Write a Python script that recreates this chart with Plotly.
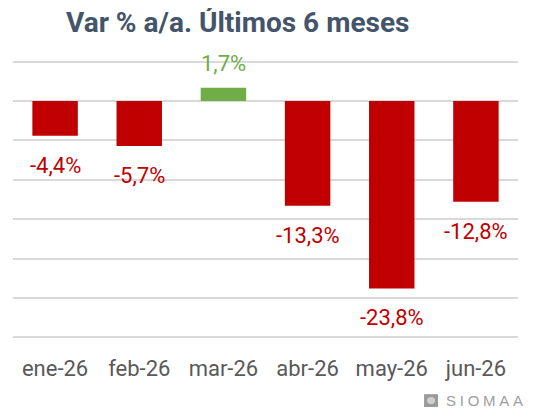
import plotly.graph_objects as go

categories = ["ene-26", "feb-26", "mar-26", "abr-26", "may-26", "jun-26"]
values = [-4.4, -5.7, 1.7, -13.3, -23.8, -12.8]
labels = ["-4,4%", "-5,7%", "1,7%", "-13,3%", "-23,8%", "-12,8%"]

RED = "#C00000"
GREEN = "#70AD47"
colors = [GREEN if v >= 0 else RED for v in values]

fig = go.Figure()
fig.add_trace(go.Bar(x=categories, y=values, marker_color=colors, marker_line_width=0,
                     hoverinfo="skip"))

for c, v, t, col in zip(categories, values, labels, colors):
    fig.add_annotation(x=c, y=v, text=t, showarrow=False,
                       yanchor="bottom" if v >= 0 else "top",
                       yshift=10 if v >= 0 else -15,
                       font=dict(family="Roboto", size=22, color=col))

fig.add_annotation(xref="paper", yref="paper", x=0.103, y=1.12, xanchor="left", yanchor="middle",
                   text="<b>Var % a/a. Últimos 6 meses</b>", showarrow=False, borderpad=0,
                   font=dict(family="Roboto", size=28, color="#44546A"))

# logo
fig.add_shape(type="rect", xref="paper", yref="paper", x0=0.814, x1=0.8416, y0=-0.228, y1=-0.183,
              fillcolor="#9A9A9A", line=dict(width=0), layer="above")
fig.add_shape(type="circle", xref="paper", yref="paper", x0=0.820, x1=0.8356, y0=-0.218, y1=-0.193,
              fillcolor="#D0D0D0", line=dict(width=0), layer="above")
fig.add_annotation(xref="paper", yref="paper", x=0.8525, y=-0.205, xanchor="left", yanchor="middle",
                   text="S\u2005I\u2005O\u2005M\u2005A\u2005A", showarrow=False,
                   font=dict(family="Liberation Sans", size=15, color="#9E9E9E"))

fig.update_layout(
    width=535, height=406,
    margin=dict(l=5, r=25, t=49, b=72),
    paper_bgcolor="white", plot_bgcolor="white",
    showlegend=False,
    bargap=0.46,
    xaxis=dict(tickfont=dict(family="Roboto", size=22, color="#595959"), ticks="",
               ticklabelstandoff=11,
               showgrid=False, showline=False, zeroline=False),
    yaxis=dict(range=[-30.6, 5.6], dtick=5, tick0=0, showticklabels=False,
               showgrid=True, gridcolor="#D9D9D9", gridwidth=2,
               zeroline=True, zerolinecolor="#D9D9D9", zerolinewidth=2),
)

fig.write_html("out.html")
